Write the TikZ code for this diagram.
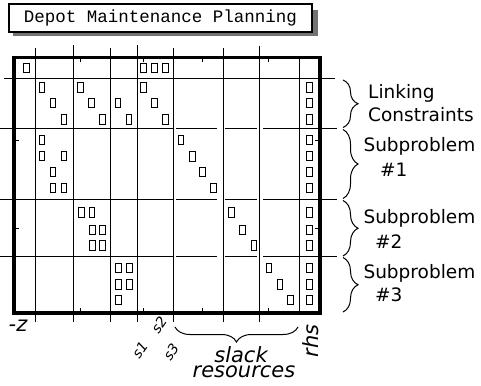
\documentclass[tikz,border=0pt]{standalone}
\usepackage{fontspec}
\setmainfont{DejaVu Sans}
\newfontfamily\monofont{Liberation Mono}
\usetikzlibrary{decorations.pathreplacing}
\tikzset{
  gridline/.style={line width=1.15pt},
  framebox/.style={line width=3.6pt},
  cell/.style={draw, line width=1.15pt, minimum width=5.8pt, minimum height=9.8pt, inner sep=0pt},
  lbl/.style={font=\fontsize{18.5pt}{20pt}\selectfont, anchor=base west, inner sep=0pt},
  ital/.style={font=\fontsize{21pt}{22pt}\selectfont\itshape, inner sep=0pt},
  sital/.style={font=\fontsize{14pt}{15pt}\selectfont\itshape, inner sep=0pt, rotate=55},
  sbrace/.style={decorate, decoration={brace, amplitude=15pt}, line width=1pt},
  minortick/.style={line width=1pt},
  dropshade/.style={draw=black!55}
}
\begin{document}
\begin{tikzpicture}[x=1pt,y=-1pt]
\useasboundingbox (0,0) rectangle (481,385);
% title box and shadow
\node[draw, fill=white, line width=1.2pt, minimum width=303pt, minimum height=28pt, inner sep=0pt,
  font=\monofont\fontsize{17.5pt}{18pt}\selectfont] (title) at (160.5,18) {Depot Maintenance Planning};
\draw[dropshade, line width=5pt] (315.3,10) -- (315.3,36.5);
\draw[dropshade, line width=3.6pt] (13,34.6) -- (317.8,34.6);
% horizontal lines
\draw[gridline] (4,78.5) -- (335,78.5);
\foreach \y in {128.5,199.5,256.5} {
  \draw[gridline] (0,\y) -- (173.5,\y);
  \draw[gridline] (176,\y) -- (216.5,\y);
  \draw[gridline] (225,\y) -- (256.5,\y);
  \draw[gridline] (263,\y) -- (337,\y);
}
% vertical lines
\foreach \x/\t in {35.5/48,73.5/45,110.5/48,137.5/45,173.5/48,223.5/48,259.5/46}
  \draw[gridline] (\x,\t) -- (\x,322);
\draw[gridline] (299.5,57) -- (299.5,313);
% minor ticks
\foreach \x in {80.5,143.5,202.5,268.5} {
  \draw[minortick] (\x,57) -- (\x,62);
  \draw[minortick] (\x,308) -- (\x,313);
}
\foreach \y in {140.5,228.5} {
  \draw[minortick] (13,\y) -- (18.5,\y);
  \draw[minortick] (314.5,\y) -- (320,\y);
}
% frame
\draw[framebox] (13.7,57.5) rectangle (319.7,313);
% cells
\foreach \cx/\cy [count=\i] in {
  26.5/68, 143.5/68, 154.5/68, 165.5/68,
  42/87.5, 53/103, 64/119.5,
  80.5/87.5, 91.7/103, 102.3/119.5,
  118/103, 129/119.5,
  143.5/87.5, 154.5/103, 165.5/119.5,
  309.5/87.5, 309.5/103, 309.5/119.5,
  42/140, 42/156, 64/156, 53/172, 53/188, 64/188,
  181/140, 192.3/156.5, 202.7/172, 213.3/188,
  309.5/140, 309.5/156, 309.5/172, 309.5/188,
  81.5/212.3, 92/212.3, 92.5/230, 102.7/230, 92.5/245.5, 102.7/245.5,
  231.5/212.3, 242.5/230, 254/245.5,
  309.5/212.3, 309.5/230, 309.5/245.5,
  118.3/268, 129.3/268, 118.3/284.3, 129.3/284.3, 118.3/300,
  269/268, 280/284.3, 290.7/300,
  309.5/268, 309.5/284.3, 309.5/300}
  \node[cell] (cell\i) at (\cx,\cy) {};
% right braces
\coordinate (b0) at (343,80);
\coordinate (b1) at (343,127.5);
\coordinate (b2) at (343,129.5);
\coordinate (b3) at (343,198.5);
\coordinate (b4) at (343,200.5);
\coordinate (b5) at (343,256);
\coordinate (b6) at (343,257.5);
\coordinate (b7) at (343,312);
\draw[sbrace] (b0) -- (b1);
\draw[sbrace] (b2) -- (b3);
\draw[sbrace] (b4) -- (b5);
\draw[sbrace] (b6) -- (b7);
% right labels
\node[lbl] (l1) at (368,99) {Linking};
\node[lbl] (l2) at (368,121.7) {Constraints};
\node[lbl] (s1a) at (363.3,151.7) {Subproblem};
\node[lbl] (s1b) at (380,176) {\#1};
\node[lbl] (s2a) at (363.3,223.3) {Subproblem};
\node[lbl] (s2b) at (375,248) {\#2};
\node[lbl] (s3a) at (363.3,278.3) {Subproblem};
\node[lbl] (s3b) at (375,301.7) {\#3};
% bottom labels
\node[ital] (mz) at (18,326) {-z};
\node[sital] (sv1) at (140,350) {s1};
\node[sital] (sv2) at (159,325) {s2};
\node[sital] (sv3) at (171,352) {s3};
\node[ital, rotate=90] (rhs) at (311,341) {rhs};
\coordinate (sb0) at (298,327);
\coordinate (sb1) at (175,327);
\draw[sbrace] (sb0) -- (sb1);
\node[ital] (slack) at (241,355) {slack};
\node[ital] (res) at (244,372) {resources};
\end{tikzpicture}
\end{document}
